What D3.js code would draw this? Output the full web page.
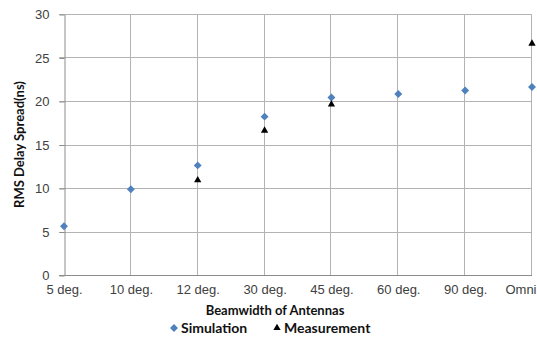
<!DOCTYPE html>
<html>
<head>
<meta charset="utf-8">
<script src="https://cdn.jsdelivr.net/npm/d3@7"></script>
<style>
  body { margin: 0; background: #fff; }
  svg { display: block; font-family: Lato, "Open Sans", sans-serif; }
  .grid line { stroke: #b3b3b3; stroke-width: 1; }
  .axis path, .axis line { stroke: #8c8c8c; }
  .axis text { fill: #404040; font-size: 13px; }
  .title { font-weight: bold; font-size: 13px; fill: #111; }
  .legend text { font-size: 14px; }
</style>
</head>
<body>
<div id="chart"></div>
<script>
var categories = ["5 deg.", "10 deg.", "12 deg.", "30 deg.", "45 deg.", "60 deg.", "90 deg.", "Omni"];
var simulation = [5.6, 9.85, 12.6, 18.2, 20.4, 20.8, 21.2, 21.6];
var measurement = [null, null, 10.9, 16.6, 19.6, null, null, 26.6];
var yTicks = [0, 5, 10, 15, 20, 25, 30];

var w = 537;
var h = 338;
var margin = { top: 14, right: 5, bottom: 63, left: 64 };

var svg = d3
  .select("#chart")
  .append("svg")
  .attr("width", w)
  .attr("height", h);

var x = d3
  .scalePoint()
  .domain(categories)
  .range([margin.left, w - margin.right])
  .padding(0);

var y = d3
  .scaleLinear()
  .domain([0, 30])
  .range([h - margin.bottom, margin.top]);

// gridlines
var grid = svg.append("g").attr("class", "grid");
grid
  .selectAll(".hgrid")
  .data(yTicks.slice(1))
  .enter()
  .append("line")
  .attr("x1", margin.left - 5)
  .attr("x2", w - margin.right)
  .attr("y1", (d) => Math.round(y(d)) + 0.5)
  .attr("y2", (d) => Math.round(y(d)) + 0.5);
grid
  .selectAll(".vgrid")
  .data(categories.slice(1))
  .enter()
  .append("line")
  .attr("x1", (d) => Math.round(x(d)) - 0.5)
  .attr("x2", (d) => Math.round(x(d)) - 0.5)
  .attr("y1", margin.top)
  .attr("y2", h - margin.bottom);

// axes
var yAxis = svg
  .append("g")
  .attr("class", "axis")
  .attr("transform", "translate(" + (margin.left + 0.5) + ",0.5)")
  .call(d3.axisLeft(y).tickValues(yTicks).tickSize(5).tickSizeOuter(0).tickPadding(10));

var xAxis = svg
  .append("g")
  .attr("class", "axis")
  .attr("transform", "translate(0," + (h - margin.bottom + 0.5) + ")")
  .call(d3.axisBottom(x).tickSize(0).tickPadding(9));
xAxis.select(".domain").attr("d", "M" + (margin.left - 5) + ",0H" + (w - margin.right));
// last label kept inside the chart
xAxis
  .selectAll(".tick text")
  .filter((d) => d === "Omni")
  .attr("text-anchor", "end")
  .attr("x", w - 1 - x("Omni"));

// axis titles
svg
  .append("text")
  .attr("class", "title")
  .attr("transform", "translate(19," + (margin.top + (h - margin.bottom - margin.top) / 2) + ") rotate(-90)")
  .attr("text-anchor", "middle")
  .attr("dy", "0.35em")
  .text("RMS Delay Spread(ns)");

svg
  .append("text")
  .attr("class", "title")
  .attr("x", 275)
  .attr("y", 310)
  .attr("text-anchor", "middle")
  .attr("dy", "0.35em")
  .text("Beamwidth of Antennas");

// markers
var diamond = d3.symbol().type(d3.symbolDiamond2).size(40);
var triangle = d3.symbol().type(d3.symbolTriangle2).size(38);

svg
  .append("g")
  .selectAll("path")
  .data(simulation)
  .enter()
  .append("path")
  .attr("d", diamond)
  .attr("transform", (d, i) => "translate(" + x(categories[i]) + "," + y(d) + ")")
  .style("fill", "#4f81bd");

svg
  .append("g")
  .selectAll("path")
  .data(measurement.map((v, i) => ({ c: categories[i], v: v })).filter((d) => d.v != null))
  .enter()
  .append("path")
  .attr("d", triangle)
  .attr("transform", (d) => "translate(" + x(d.c) + "," + y(d.v) + ")")
  .style("fill", "#000");

// legend
var legend = svg.append("g").attr("class", "legend").attr("transform", "translate(0,328)");
legend.append("path").attr("d", diamond).attr("transform", "translate(174,0)").style("fill", "#4f81bd");
legend.append("text").attr("class", "title").attr("x", 181).attr("dy", "0.35em").text("Simulation");
legend.append("path").attr("d", triangle).attr("transform", "translate(277,0)").style("fill", "#000");
legend.append("text").attr("class", "title").attr("x", 284).attr("dy", "0.35em").text("Measurement");
</script>
</body>
</html>
